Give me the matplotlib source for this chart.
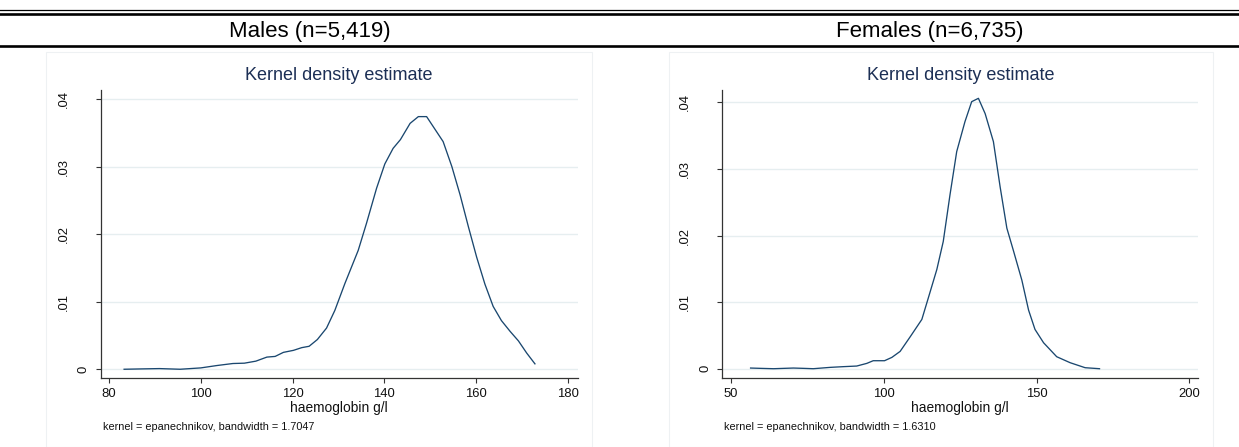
import matplotlib
matplotlib.use("Agg")
import matplotlib.pyplot as plt
from matplotlib.lines import Line2D
from matplotlib.patches import Rectangle

# kernel density, haemoglobin g/l
males_x = [83.3, 87, 91, 95.5, 100, 103.5, 107, 109.5, 112, 114.4, 116.2, 118, 120.2,
           122, 123.6, 125.4, 127.4, 129.2, 131.4, 134.3, 136.1, 138.3, 140.1, 141.9,
           143.5, 145.6, 147.4, 149.2, 152.8, 154.7, 156.5, 158.3, 160.1, 161.9, 163.7,
           165.5, 167.4, 169.2, 171.0, 172.8]
males_d = [0, 0.00005, 0.0001, 0, 0.0002, 0.00055, 0.00085, 0.0009, 0.0012, 0.0018,
           0.0019, 0.0025, 0.0028, 0.0032, 0.0034, 0.0044, 0.0061, 0.0087, 0.0127, 0.0176,
           0.0216, 0.0268, 0.0304, 0.0327, 0.0340, 0.0364, 0.0374, 0.0374, 0.0337, 0.0300,
           0.0258, 0.0211, 0.0166, 0.0126, 0.0093, 0.0072, 0.0056, 0.0042, 0.0024, 0.0008]

females_x = [56.5, 60, 64, 70.5, 74, 77, 82.5, 86.5, 91.2, 94.5, 96.6, 100.3, 102.7,
             105.4, 108.7, 112.5, 114.6, 117.4, 119.5, 121.7, 123.9, 126.6, 128.8, 131.0,
             133.2, 135.9, 138.1, 140.3, 142.4, 145.2, 147.4, 149.5, 152.3, 156.6, 161.0,
             165.9, 170.6]
females_d = [0.0001, 0.00005, 0, 0.0001, 0.00005, 0, 0.0002, 0.0003, 0.0004, 0.0008,
             0.0012, 0.0012, 0.0017, 0.0026, 0.0048, 0.0074, 0.0106, 0.0149, 0.0191,
             0.0261, 0.0326, 0.0371, 0.0401, 0.0406, 0.0383, 0.0341, 0.0273, 0.0211,
             0.0178, 0.0133, 0.0088, 0.0059, 0.0039, 0.0018, 0.0009, 0.00015, 0.0]

panel_titles = ["Males (n=5,419)", "Females (n=6,735)"]
males_xticks = [80, 100, 120, 140, 160, 180]
females_xticks = [50, 100, 150, 200]
yticks = [0, 0.01, 0.02, 0.03, 0.04]
ytick_labels = ["0", ".01", ".02", ".03", ".04"]
bandwidths = ["1.7047", "1.6310"]

W, H = 1239, 447
NAVY = "#1a476f"
GRID = "#e6eef0"
SPINE = "#333333"
plt.rcParams["font.family"] = ["Liberation Sans", "DejaVu Sans"]


def fx(px):
    return px / W


def fy(py):
    return 1 - py / H


fig = plt.figure(figsize=(W / 100, H / 100), dpi=100)

# header rules
for y, lw in [(10, 0.9), (14, 1.9), (45.7, 1.9)]:
    fig.add_artist(Line2D([0, 1], [fy(y), fy(y)], transform=fig.transFigure,
                          color="black", lw=lw))

# faint graph region frames
for x0, x1 in [(45.5, 591.5), (669.4, 1212.7)]:
    fig.add_artist(Rectangle((fx(x0), 0), fx(x1) - fx(x0), fy(51.7),
                             transform=fig.transFigure, fill=False,
                             edgecolor="#eef1f3", lw=0.8))

panels = [
    (males_x, males_d, males_xticks, (78.2, 182.07), (-0.00125, 0.04134), 100.7, 577.5),
    (females_x, females_d, females_xticks, (47.25, 202.9), (-0.00135, 0.04185), 722.3, 1198.3),
]

for i, (xs, ds, xt, xl, yl, left, right) in enumerate(panels):
    ax = fig.add_axes([fx(left), fy(377.7), fx(right) - fx(left), (377.7 - 90) / H])
    ax.plot(xs, ds, color=NAVY, lw=0.95)
    ax.set_xlim(*xl)
    ax.set_ylim(*yl)
    ax.set_xticks(xt)
    ax.set_xticklabels([str(t) for t in xt], fontsize=9.4, color="#111111")
    ax.set_yticks(yticks)
    ax.set_yticklabels([])
    ax.grid(axis="y", color=GRID, lw=1.0)
    ax.set_axisbelow(True)
    for s in ["top", "right"]:
        ax.spines[s].set_visible(False)
    for s in ["left", "bottom"]:
        ax.spines[s].set_color(SPINE)
        ax.spines[s].set_linewidth(0.9)
    ax.tick_params(direction="out", length=3.6, width=0.8, color=SPINE, pad=3.5)
    # Stata-style vertical y labels, pushed left by label length
    for v, lab in zip(yticks, ytick_labels):
        ax.annotate(lab, xy=(0, v), xycoords=("axes fraction", "data"),
                    xytext=(-(5 + 7.2 * len(lab)), 0), textcoords="offset points",
                    rotation=90, ha="center", va="center", fontsize=9.4, color="#111111")

    cx = (left + right) / 2
    fig.text(fx(cx), fy(75), "Kernel density estimate", ha="center", va="center",
             fontsize=13, color="#1c2f55")
    fig.text(fx(cx), fy(408.3), "haemoglobin g/l", ha="center", va="center",
             fontsize=9.9, color="#111111")
    fig.text(fx(left + 2), fy(426.5), f"kernel = epanechnikov, bandwidth = {bandwidths[i]}",
             ha="left", va="center", fontsize=7.8, color="#111111")
    fig.text(fx(310 + 620 * i), fy(31.7), panel_titles[i], ha="center", va="center",
             fontsize=16, color="black")

fig.savefig("out.png", dpi=100)
